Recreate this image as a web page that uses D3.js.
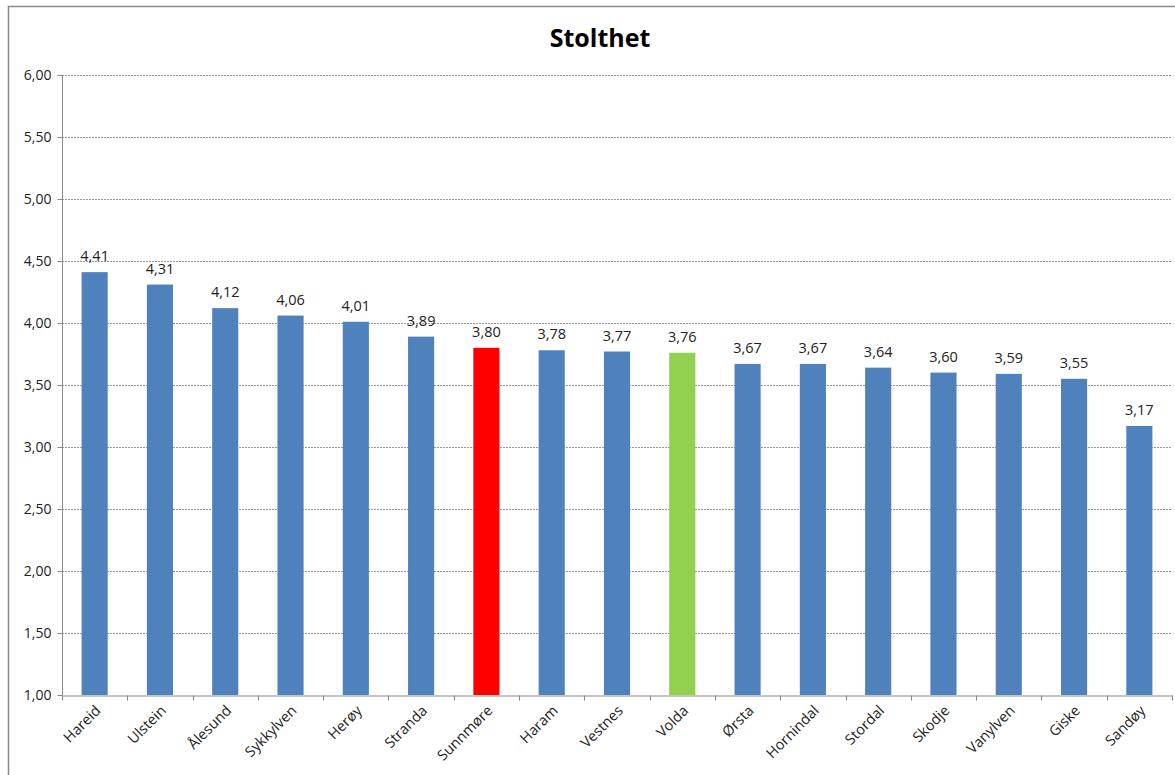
<!DOCTYPE html>
<html><head><meta charset="utf-8">
<script src="https://cdn.jsdelivr.net/npm/d3@7/dist/d3.min.js"></script>
<style>body{margin:0;background:#fff}svg{display:block}</style>
</head><body>
<svg id="c" width="1175" height="775"></svg>
<script>
const categories = ["Hareid","Ulstein","Ålesund","Sykkylven","Herøy","Stranda","Sunnmøre","Haram","Vestnes","Volda","Ørsta","Hornindal","Stordal","Skodje","Vanylven","Giske","Sandøy"];
const values = [4.41,4.31,4.12,4.06,4.01,3.89,3.80,3.78,3.77,3.76,3.67,3.67,3.64,3.60,3.59,3.55,3.17];
const barColors = ["#4F81BD","#4F81BD","#4F81BD","#4F81BD","#4F81BD","#4F81BD","#FF0000","#4F81BD","#4F81BD","#92D050","#4F81BD","#4F81BD","#4F81BD","#4F81BD","#4F81BD","#4F81BD","#4F81BD"];
const yTicks = [1.0,1.5,2.0,2.5,3.0,3.5,4.0,4.5,5.0,5.5,6.0];
const title = "Stolthet";

const font = "'Open Sans', sans-serif";
const svg = d3.select("#c");
const fmt = v => d3.format(".2f")(v).replace(".", ",");

svg.append("rect").attr("x",8.5).attr("y",6.5).attr("width",1180).attr("height",800)
  .attr("fill","#fff").attr("stroke","#888").attr("stroke-width",1.5);

const L = 62, R = 1172, T = 75, B = 695;
const x = d3.scaleBand().domain(categories).range([L,R]).paddingInner(0.6).paddingOuter(0.3);
const xb = d3.scaleBand().domain(categories).range([L,R]);
const y = d3.scaleLinear().domain([1,6]).range([B,T]);

svg.append("text").attr("x",600).attr("y",47).attr("text-anchor","middle")
  .attr("font-family",font).attr("font-weight","bold").attr("font-size",25).attr("fill","#000").text(title);

// gridlines
svg.append("g").selectAll("line").data(yTicks.filter(d=>d>1)).join("line")
  .attr("x1",L).attr("x2",R).attr("y1",d=>Math.round(y(d))+0.5).attr("y2",d=>Math.round(y(d))+0.5)
  .attr("stroke","#999").attr("stroke-dasharray","2,1").attr("stroke-width",1);

// y axis
const ya = svg.append("g").attr("transform",`translate(${L+0.5},0)`)
  .call(d3.axisLeft(y).tickValues(yTicks).tickFormat(fmt).tickSize(5).tickPadding(6));
ya.select(".domain").attr("stroke","#888").attr("d",`M0,${T}V${B}`);
ya.selectAll(".tick line").attr("stroke","#888");
ya.selectAll("text").attr("font-family",font).attr("font-size",14).attr("fill","#222");

// bars
svg.append("g").selectAll("rect").data(values).join("rect")
  .attr("x",(d,i)=>x(categories[i])).attr("width",x.bandwidth())
  .attr("y",d=>y(d)).attr("height",d=>B-y(d)).attr("fill",(d,i)=>barColors[i]);

// labels
svg.append("g").selectAll("text").data(values).join("text")
  .attr("x",(d,i)=>x(categories[i])+x.bandwidth()/2).attr("y",d=>y(d)-11)
  .attr("text-anchor","middle").attr("font-family",font).attr("font-size",14.5).attr("fill","#222")
  .text(fmt);

// x axis
const xa = svg.append("g").attr("transform",`translate(0,${B+0.5})`)
  .call(d3.axisBottom(xb).tickSize(0).tickSizeOuter(0));
xa.select(".domain").attr("stroke","#888");
xa.selectAll(".tick line").remove();
xa.selectAll(".tick text").remove();
const edges = categories.map(c=>xb(c)).concat([R]);
xa.selectAll(".sep").data(edges).join("line").attr("class","sep")
  .attr("x1",d=>Math.round(d)+0.5).attr("x2",d=>Math.round(d)+0.5).attr("y1",0).attr("y2",5).attr("stroke","#888");
xa.selectAll(".lbl").data(categories).join("text").attr("class","lbl")
  .attr("transform",d=>`translate(${xb(d)+xb.bandwidth()/2+7},16) rotate(-45)`)
  .attr("text-anchor","end").attr("font-family",font).attr("font-size",14.5).attr("fill","#222")
  .text(d=>d);
</script>
</body></html>
